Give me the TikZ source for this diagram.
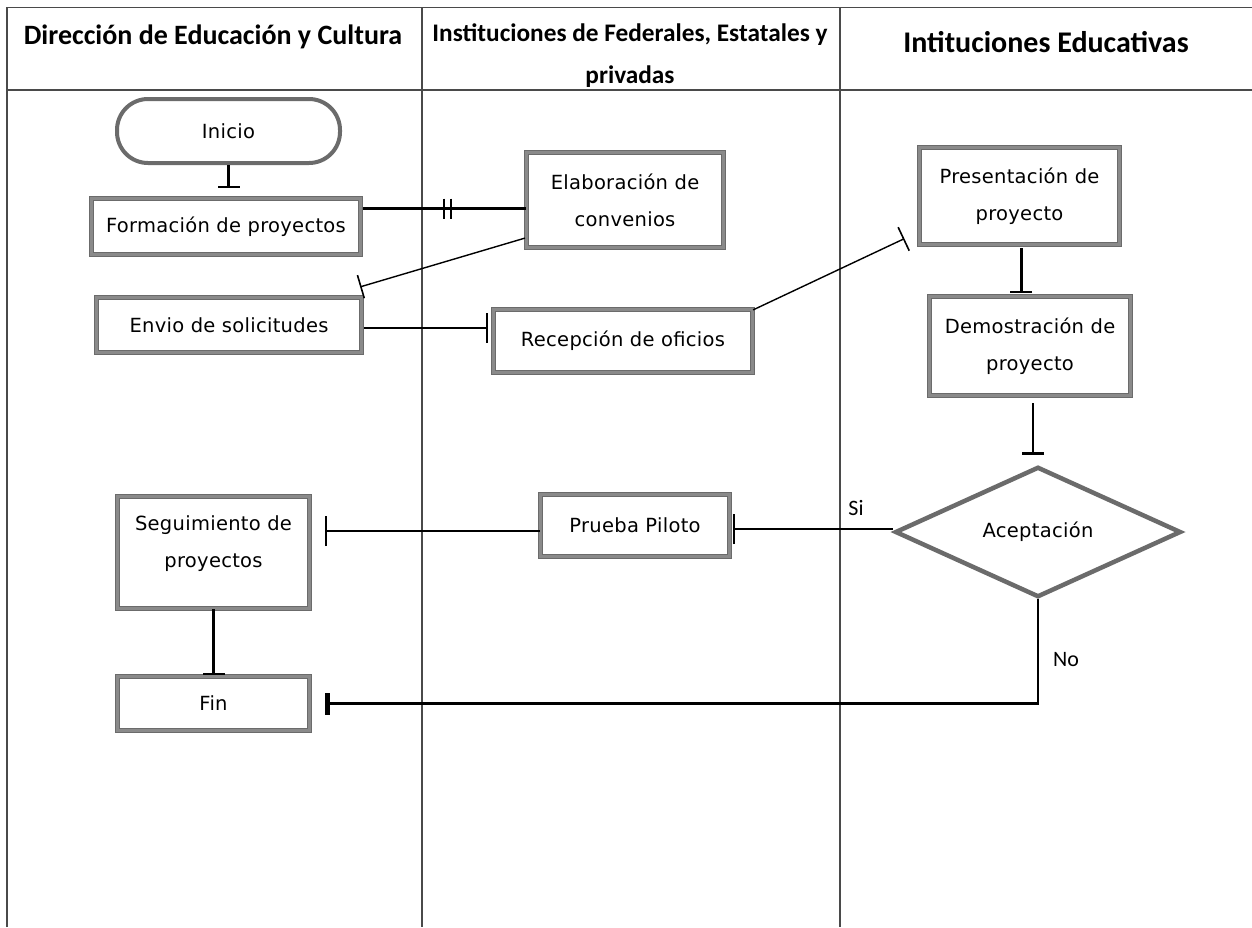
\documentclass[tikz,border=0pt]{standalone}
\usepackage{fontspec}
\setmainfont{DejaVu Sans}[LetterSpace=1.5]
\newfontfamily\headfont{Carlito}
\usetikzlibrary{arrows.meta,shapes.geometric,calc,decorations.markings}

\definecolor{rule}{HTML}{4A4A4A}
\definecolor{edge}{HTML}{6B6B6B}
\definecolor{edgein}{HTML}{8A8A8A}

\tikzset{
  proc/.style={rectangle, draw=edge, double=edgein, double distance=2.8pt,
    line width=1.2pt, fill=white, inner sep=0pt, align=center,
    font=\fontsize{19.5}{37}\selectfont},
  term/.style={rectangle, rounded corners=31pt, draw=edge, line width=4pt,
    fill=white, inner sep=0pt, font=\fontsize{19.5}{23}\selectfont},
  decide/.style={diamond, draw=edge, line width=4.5pt, fill=white,
    inner sep=0pt, font=\fontsize{19.5}{23}\selectfont},
  head/.style={font=\headfont\bfseries\fontsize{28}{42}\selectfont, align=center},
  tag/.style={font=\headfont\fontsize{22}{24}\selectfont},
  flow/.style={draw=black, line width=2.4pt},
  thin/.style={draw=black, line width=1.4pt},
  lane/.style={draw=rule, line width=1.5pt},
}

\begin{document}
\begin{tikzpicture}[x=1pt, y=-1pt]
  \useasboundingbox (0,0) rectangle (1252,927);
  \fill[white] (0,0) rectangle (1252,927);

  % swimlane grid
  \draw[lane] (7,927) -- (7,7.5) -- (1252,7.5);
  \draw[lane] (7,90) -- (1252,90);
  \draw[lane] (422,7.5) -- (422,927);
  \draw[lane] (840,7.5) -- (840,927);

  % lane titles
  \node[head] (h1) at (213,37) {Dirección de Educación y Cultura};
  \node[head, font=\headfont\bfseries\fontsize{25.3}{42}\selectfont] (h2) at (630,56)
    {Instituciones de Federales, Estatales y\\privadas};
  \node[head, font=\headfont\bfseries\fontsize{30}{42}\selectfont] (h3) at (1046,42)
    {Intituciones Educativas};

  % process steps
  \node[term, minimum width=223pt, minimum height=64pt] (inicio) at (228.5,131) {Inicio};
  \node[proc, minimum width=269pt, minimum height=56pt] (form) at (226,226.5) {Formación de proyectos};
  \node[proc, minimum width=265pt, minimum height=55pt] (envio) at (229,325) {Envio de solicitudes};
  \node[proc, minimum width=197pt, minimum height=95pt] (elab) at (625,200) {Elaboración de\\convenios};
  \node[proc, minimum width=259pt, minimum height=63pt] (recep) at (623,341) {Recepción de oficios};
  \node[proc, minimum width=200pt, minimum height=97pt] (pres) at (1019.5,196) {Presentación de\\proyecto};
  \node[proc, minimum width=201pt, minimum height=99pt] (demo) at (1030,346) {Demostración de\\proyecto};
  \node[decide, minimum width=286pt, minimum height=117pt] (acep) at (1038,532) {Aceptación};
  \node[proc, minimum width=189pt, minimum height=62pt] (prueba) at (635,525.5) {Prueba Piloto};
  \node[proc, minimum width=192pt, minimum height=112pt,
        label={[font=\fontsize{19.5}{37}\selectfont, align=center, yshift=9pt]center:Seguimiento de\\proyectos}]
        (seg) at (213.5,552.5) {};
  \node[proc, minimum width=192pt, minimum height=54pt] (fin) at (213.5,703.5) {Fin};

  % branch labels
  \node[tag] (si) at (856,508) {Si};
  \node[tag] (no) at (1066,660) {No};

  % connectors
  \draw[flow, -{Bar[width=22pt, line width=2.4pt]}, shorten >=10pt]
    (inicio.south) -- (inicio.south |- form.north);

  \coordinate (fe) at ($(form.east)+(2,-18)$);
  \draw[flow, postaction={decorate, decoration={markings,
        mark=at position 0.52 with {\draw[line width=1.6pt] (-3.5,-10) -- (-3.5,10) (3.5,-10) -- (3.5,10);}}}]
    (fe) -- (fe -| elab.west);

  \draw[thin, -{Bar[width=24pt, line width=1.6pt]}]
    ($(elab.south west)+(-1,-10)$) -- ($(envio.north east)+(-2,-10)$);

  \draw[flow, -{Bar[width=30pt, line width=2pt]}, shorten >=5pt]
    ($(envio.east)+(2,3)$) -- ($(envio.east -| recep.west)+(0,3)$);

  \draw[thin, -{Bar[width=26pt, line width=1.6pt]}]
    ($(recep.north east)+(0,1)$) -- ($(pres.south west)+(-14.5,-6.5)$);

  \draw[flow, line width=3pt, -{Bar[width=22pt, line width=2.4pt]}, shorten >=3pt]
    ($(pres.south)+(1.5,3)$) -- ($(pres.south |- demo.north)+(1.5,0)$);

  \draw[flow, -{Bar[width=22pt, line width=2.4pt]}, shorten >=10pt]
    ($(demo.south)+(3,7)$) -- ($(demo.south |- acep.north)+(3,0)$);

  \draw[flow, -{Bar[width=30pt, line width=2pt]}, shorten >=3pt]
    ($(acep.west)+(0,-3)$) -- ($(acep.west -| prueba.east)+(0,-3)$);

  \draw[thin, -{Bar[width=30pt, line width=1.6pt]}, shorten >=15pt]
    ($(prueba.west)+(0,5.5)$) -- ($(prueba.west -| seg.east)+(0,5.5)$);

  \draw[flow, -{Bar[width=22pt, line width=2.4pt]}]
    (seg.south) -- ($(fin.north)+(0,-1)$);

  \draw[flow, -{Bar[width=22pt, line width=5pt]}, shorten >=15pt]
    (acep.south) -- (acep.south |- fin.east) -- (fin.east);
\end{tikzpicture}
\end{document}
